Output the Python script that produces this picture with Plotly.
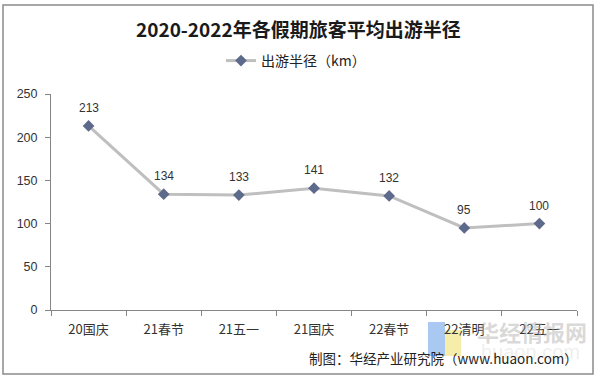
import plotly.graph_objects as go

categories = ["20国庆", "21春节", "21五一", "21国庆", "22春节", "22清明", "22五一"]
radius_km = [213, 134, 133, 141, 132, 95, 100]
y_ticks = [0, 50, 100, 150, 200, 250]

W, H = 598, 379
L, R, T, B = 51, 577, 94, 310
pw, ph = R - L, B - T

def px(x):
    return (x - L) / pw

def py(y):
    return (B - y) / ph

fig = go.Figure()
fig.add_trace(go.Scatter(
    x=categories, y=radius_km, mode="lines+markers", name="出游半径（km）",
    line=dict(color="#BFBFBF", width=3),
    marker=dict(symbol="diamond", size=9, color="#5E6A8B"),
    cliponaxis=False,
))

annotations = []
annotations.append(dict(x=px(532), y=py(331), xref="paper", yref="paper", xanchor="center", yanchor="middle",
                        text="<b>华经情报网</b>", showarrow=False,
                        font=dict(family="Noto Sans CJK SC", size=22, color="rgba(170,170,170,0.45)")))
annotations.append(dict(x=px(530), y=py(352), xref="paper", yref="paper", xanchor="center", yanchor="middle",
                        text="huaon.com", showarrow=False,
                        font=dict(family="Arial, Liberation Sans", size=20, color="rgba(200,200,200,0.3)")))
for c, v in zip(categories, radius_km):
    annotations.append(dict(x=c, y=v, xref="x", yref="y", text=str(v), showarrow=False,
                            yshift=18, font=dict(family="Arial, Liberation Sans", size=12, color="#333333")))

annotations.append(dict(x=px(298), y=py(28), xref="paper", yref="paper", xanchor="center", yanchor="middle",
                        text="<b>2020-2022年各假期旅客平均出游半径</b>", showarrow=False,
                        font=dict(family="Noto Sans CJK SC", size=19, color="#1A1A1A")))
annotations.append(dict(x=px(580), y=py(358), xref="paper", yref="paper", xanchor="right", yanchor="middle",
                        text="制图：华经产业研究院（www.huaon.com）", showarrow=False,
                        font=dict(family="Noto Sans CJK SC", size=13.5, color="#222222")))

shapes = [
    dict(type="rect", xref="paper", yref="paper", x0=px(428), x1=px(445), y0=py(356), y1=py(322),
         fillcolor="#A9C8F2", line=dict(width=0), layer="below"),
    dict(type="rect", xref="paper", yref="paper", x0=px(445), x1=px(461), y0=py(356), y1=py(330),
         fillcolor="#F6EDAA", line=dict(width=0), layer="below"),
    dict(type="rect", xref="paper", yref="paper", x0=px(3), x1=px(593), y0=py(374), y1=py(5),
         line=dict(color="#8A8A8A", width=1.5), fillcolor="rgba(0,0,0,0)"),
]

fig.update_layout(
    width=W, height=H,
    margin=dict(l=L, r=W - R, t=T, b=H - B, pad=0),
    paper_bgcolor="white", plot_bgcolor="white",
    showlegend=True,
    legend=dict(orientation="h", x=px(296), xanchor="center", y=py(61), yanchor="middle",
                itemwidth=30, font=dict(family="Noto Sans CJK SC", size=14, color="#222222"),
                bgcolor="rgba(0,0,0,0)"),
    xaxis=dict(type="category", categoryorder="array", categoryarray=categories,
               range=[-0.5, len(categories) - 0.5],
               showline=True, linecolor="#868686", linewidth=1, ticks="outside", tickson="boundaries",
               ticklen=5, tickcolor="#868686", showgrid=False, zeroline=False, ticklabelstandoff=7,
               tickfont=dict(family="Noto Sans CJK SC", size=13, color="#333333")),
    yaxis=dict(range=[0, 250], tickvals=y_ticks, showline=True, linecolor="#868686", linewidth=1,
               ticks="outside", ticklen=5, tickcolor="#868686", showgrid=False, zeroline=False,
               ticklabelstandoff=5,
               tickfont=dict(family="Arial, Liberation Sans", size=12.5, color="#333333")),
    annotations=annotations,
    shapes=shapes,
)

fig.write_html("out.html", config={"displayModeBar": False},
               post_script="document.body.style.margin='0px';document.body.style.padding='0px';")
